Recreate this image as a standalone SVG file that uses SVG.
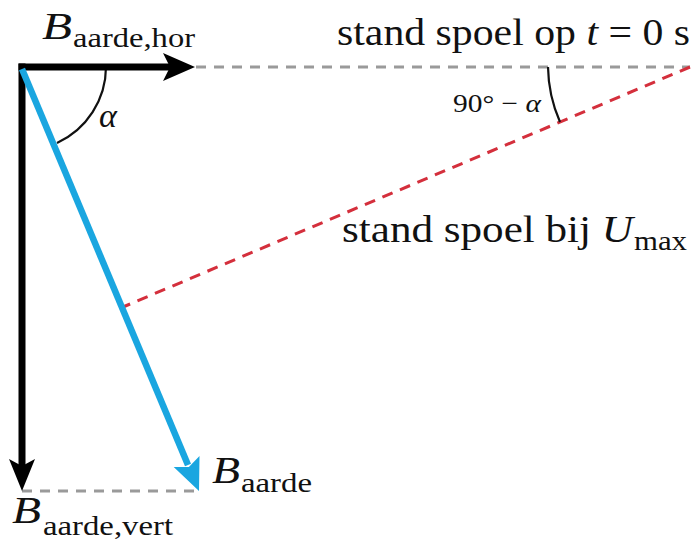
<svg xmlns="http://www.w3.org/2000/svg" width="695" height="546" viewBox="0 0 695 546">
<style>
text{font-family:"Liberation Serif","Times New Roman",serif;fill:#111}
.i{font-style:italic}
.big{font-size:38px}
.sub{font-size:28px}
.dash{fill:none;stroke:#9a9a9a;stroke-width:3;stroke-dasharray:10 8}
.red{fill:none;stroke:#d42f3c;stroke-width:3;stroke-dasharray:11 8}
.arc{fill:none;stroke:#111;stroke-width:2.2}
</style>
<rect width="695" height="546" fill="#fff"/>
<g id="connectors">
<path class="dash" d="M196 67 H690"/>
<path class="dash" d="M22 491 H199"/>
<path class="red" d="M690 67 L123 307"/>
<path class="arc" d="M106 67 A84 84 0 0 1 57 143"/>
<path class="arc" d="M548 67 A142 142 0 0 0 560 122"/>
</g>
<g id="b-hor">
<line x1="18.5" y1="67" x2="172" y2="67" stroke="#000" stroke-width="7"/>
<path d="M195 67 L163 53 L170 67 L163 81 Z" fill="#000"/>
</g>
<g id="b-vert">
<line x1="22" y1="63.5" x2="22" y2="468" stroke="#000" stroke-width="7"/>
<path d="M22 491 L9 459 L22 466 L35 459 Z" fill="#000"/>
</g>
<g id="b-aarde">
<line x1="22" y1="69" x2="188" y2="465" stroke="#1aa6e0" stroke-width="6.5"/>
<path d="M199 491 L173.7 466.9 L188.9 467 L199.5 456.1 Z" fill="#1aa6e0"/>
</g>
<g id="labels">
<text class="big i" x="42" y="39" textLength="30" lengthAdjust="spacingAndGlyphs">B</text>
<text class="sub" x="73" y="47" textLength="122" lengthAdjust="spacingAndGlyphs">aarde,hor</text>
<text class="big" x="337" y="45" textLength="353" lengthAdjust="spacingAndGlyphs">stand spoel op <tspan class="i">t</tspan> = 0 s</text>
<text class="i" x="99" y="127" font-size="34">α</text>
<text x="453" y="112" font-size="26" textLength="88" lengthAdjust="spacingAndGlyphs">90° − <tspan class="i">α</tspan></text>
<text class="big" x="342" y="242" textLength="291" lengthAdjust="spacingAndGlyphs">stand spoel bij <tspan class="i">U</tspan></text>
<text class="sub" x="634" y="250" textLength="53" lengthAdjust="spacingAndGlyphs">max</text>
<text class="big i" x="212" y="483" textLength="28" lengthAdjust="spacingAndGlyphs">B</text>
<text class="sub" x="241" y="492" textLength="71" lengthAdjust="spacingAndGlyphs">aarde</text>
<text class="big i" x="12" y="523" textLength="29" lengthAdjust="spacingAndGlyphs">B</text>
<text class="sub" x="43" y="535" textLength="130" lengthAdjust="spacingAndGlyphs">aarde,vert</text>
</g>
</svg>
